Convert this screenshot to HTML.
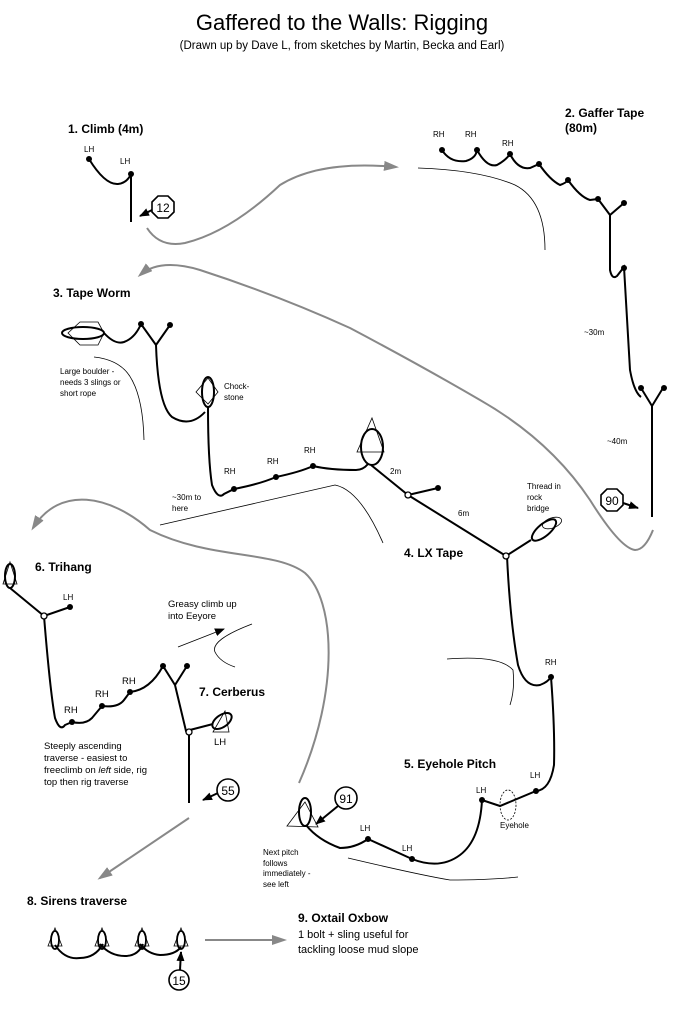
<!DOCTYPE html>
<html><head><meta charset="utf-8"><style>
html,body{margin:0;padding:0;background:#fff;}
svg{display:block;font-family:"Liberation Sans",Arial,sans-serif;}
.b{font-weight:bold;font-size:12px;}
.s{font-size:8px;}
.m{font-size:9.5px;}
.k{fill:none;stroke:#000;stroke-width:2;}
.t{fill:none;stroke:#000;stroke-width:0.8;}
.g{fill:none;stroke:#888;stroke-width:2;}
</style></head><body>
<svg width="698" height="1026" viewBox="0 0 698 1026">
<defs>
<marker id="ga" markerWidth="16" markerHeight="12" refX="12" refY="5" orient="auto" markerUnits="userSpaceOnUse"><path d="M0,0 L15,5 L0,10z" fill="#888"/></marker>
<marker id="ba" markerWidth="10" markerHeight="8" refX="9" refY="4" orient="auto" markerUnits="userSpaceOnUse"><path d="M0,0 L10,4 L0,8z" fill="#000"/></marker>
</defs>
<text x="342" y="30" font-size="22" text-anchor="middle">Gaffered to the Walls: Rigging</text>
<text x="342" y="49" font-size="11.5" text-anchor="middle">(Drawn up by Dave L, from sketches by Martin, Becka and Earl)</text>

<!-- 1 -->
<text x="68" y="133" class="b">1. Climb (4m)</text>
<text x="84" y="152" class="s">LH</text><text x="120" y="164" class="s">LH</text>
<path class="k" d="M89,159 Q105,185 118,184 Q127,183 131,174 L131,222"/>
<circle cx="89" cy="159" r="3"/><circle cx="131" cy="174" r="3"/>
<polygon points="158,196 168,196 174,202 174,212 168,218 158,218 152,212 152,202" fill="#fff" stroke="#000" stroke-width="1.6"/>
<text x="163" y="212" font-size="12" text-anchor="middle">12</text>
<line x1="152" y1="210" x2="140" y2="216" stroke="#000" stroke-width="2" marker-end="url(#ba)"/>
<path class="g" d="M147,228 Q160,248 185,243 Q230,232 280,185 Q320,160 396,167" marker-end="url(#ga)"/>

<!-- 2 -->
<text x="565" y="117" class="b">2. Gaffer Tape</text><text x="565" y="132" class="b">(80m)</text>
<text x="433" y="137" class="s">RH</text><text x="465" y="137" class="s">RH</text><text x="502" y="146" class="s">RH</text>
<path class="k" d="M442,150 Q450,163 466,161 Q476,158 477,150 Q487,168 497,165 Q506,160 510,154 Q518,170 530,168 L539,164 Q550,180 560,185 Q566,183 568,180 Q580,197 590,200 L598,199 L610,215 L624,203 M610,215 L610,270 Q612,280 617,276 L624,267 Q626,300 630,370 Q634,392 641,397 M641,388 L652,406 L663,388 M652,406 L652,517"/>
<circle cx="442" cy="150" r="3"/><circle cx="477" cy="150" r="3"/><circle cx="510" cy="154" r="3"/><circle cx="539" cy="164" r="3"/><circle cx="568" cy="180" r="3"/><circle cx="598" cy="199" r="3"/><circle cx="624" cy="203" r="3"/><circle cx="624" cy="268" r="3"/><circle cx="641" cy="388" r="3"/><circle cx="664" cy="388" r="3"/>
<path class="t" d="M418,168 Q480,170 515,185 Q545,200 545,250"/>
<text x="584" y="335" class="s">~30m</text><text x="607" y="444" class="s">~40m</text>
<polygon points="607,489 617,489 623,495 623,505 617,511 607,511 601,505 601,495" fill="#fff" stroke="#000" stroke-width="1.6"/>
<text x="612" y="505" font-size="12" text-anchor="middle">90</text>
<line x1="623" y1="503" x2="638" y2="508" stroke="#000" stroke-width="2" marker-end="url(#ba)"/>
<path class="g" d="M653,530 Q645,550 635,550 Q620,548 590,500 Q550,440 480,400 Q420,365 350,328 Q280,296 200,270 Q160,258 140,275" marker-end="url(#ga)"/>

<!-- 3 -->
<text x="53" y="297" class="b">3. Tape Worm</text>
<polygon points="80,322 98,322 104,333 98,345 80,345 68,333" fill="none" stroke="#000" stroke-width="0.8"/>
<ellipse cx="83" cy="333" rx="21" ry="6" fill="none" stroke="#000" stroke-width="2"/>
<path class="k" d="M104,333 Q115,345 124,342 Q135,338 141,324 L156,345 L170,325 M156,345 Q158,405 172,417 Q190,428 205,412"/>
<circle cx="141" cy="324" r="3"/><circle cx="170" cy="325" r="3"/>
<text x="60" y="374" class="s">Large boulder -</text><text x="60" y="385" class="s">needs 3 slings or</text><text x="60" y="396" class="s">short rope</text>
<path class="t" d="M94,357 Q122,360 132,380 Q143,400 144,440"/>
<polygon points="208,378 218,392 208,404 196,392" fill="none" stroke="#000" stroke-width="0.8"/>
<ellipse cx="208" cy="392" rx="6" ry="15" fill="none" stroke="#000" stroke-width="2"/>
<text x="224" y="389" class="s">Chock-</text><text x="224" y="400" class="s">stone</text>
<path class="k" d="M208,407 Q208,460 212,485 Q218,500 224,494 L234,489 Q260,484 276,477 Q300,472 313,466 Q330,470 356,470 Q363,470 368,464"/>
<circle cx="234" cy="489" r="3"/><circle cx="276" cy="477" r="3"/><circle cx="313" cy="466" r="3"/>
<text x="224" y="474" class="s">RH</text><text x="267" y="464" class="s">RH</text><text x="304" y="453" class="s">RH</text>
<text x="172" y="500" class="s">~30m to</text><text x="172" y="511" class="s">here</text>
<path class="t" d="M160,525 L335,485 Q360,490 383,543"/>
<polygon points="372,418 384,452 357,452" fill="none" stroke="#000" stroke-width="0.8"/>
<ellipse cx="372" cy="447" rx="11" ry="18" fill="none" stroke="#000" stroke-width="2"/>

<!-- 4 -->
<path class="k" d="M371,465 L408,495 L506,556 M408,495 L438,488 M506,556 L531,540"/>
<circle cx="438" cy="488" r="3"/>
<circle cx="408" cy="495" r="3" fill="#fff" stroke="#000" stroke-width="1.3"/>
<text x="390" y="474" class="s">2m</text><text x="458" y="516" class="s">6m</text>
<text x="527" y="489" class="s">Thread in</text><text x="527" y="500" class="s">rock</text><text x="527" y="511" class="s">bridge</text>
<ellipse cx="544" cy="530" rx="15" ry="6" transform="rotate(-40 544 530)" fill="none" stroke="#000" stroke-width="2"/>
<ellipse cx="552" cy="523" rx="10" ry="5" transform="rotate(-20 552 523)" fill="none" stroke="#000" stroke-width="0.8"/>
<text x="404" y="557" class="b">4. LX Tape</text>
<path class="k" d="M507,556 Q510,620 518,665 Q525,688 540,685 Q548,682 551,677 Q555,730 554,765 Q550,790 536,791 L500,806 L482,800 Q480,840 460,855 Q440,870 412,859 L368,839 Q355,848 340,848 Q318,840 306,825"/>
<circle cx="506" cy="556" r="3" fill="#fff" stroke="#000" stroke-width="1.3"/>
<circle cx="551" cy="677" r="3"/><circle cx="536" cy="791" r="3"/><circle cx="482" cy="800" r="3"/><circle cx="412" cy="859" r="3"/><circle cx="368" cy="839" r="3"/>
<text x="545" y="665" class="s">RH</text><text x="530" y="778" class="s">LH</text><text x="476" y="793" class="s">LH</text><text x="402" y="851" class="s">LH</text><text x="360" y="831" class="s">LH</text>
<ellipse cx="508" cy="805" rx="8" ry="15" fill="none" stroke="#000" stroke-width="0.8" stroke-dasharray="2,1.5"/>
<text x="500" y="828" class="s">Eyehole</text>
<text x="404" y="768" class="b">5. Eyehole Pitch</text>
<path class="t" d="M447,659 Q500,655 513,670 Q515,690 510,705"/>
<path class="t" d="M348,858 Q420,875 450,880 Q490,880 518,877"/>
<polygon points="305,802 318,827 287,826" fill="none" stroke="#000" stroke-width="0.8"/>
<ellipse cx="305" cy="812" rx="6" ry="14" fill="none" stroke="#000" stroke-width="2"/>
<circle cx="346" cy="798" r="11" fill="#fff" stroke="#000" stroke-width="1.6"/>
<text x="346" y="803" font-size="12" text-anchor="middle">91</text>
<line x1="338" y1="806" x2="316" y2="824" stroke="#000" stroke-width="2" marker-end="url(#ba)"/>
<text x="263" y="855" class="s">Next pitch</text><text x="263" y="866" class="s">follows</text><text x="263" y="876" class="s">immediately -</text><text x="263" y="887" class="s">see left</text>
<path class="g" d="M299,783 C340,690 335,600 305,573 C275,550 210,560 150,530 C110,495 60,485 33,528" marker-end="url(#ga)"/>

<!-- 6 -->
<text x="35" y="571" class="b">6. Trihang</text>
<polygon points="10,562 17,584 3,584" fill="none" stroke="#000" stroke-width="0.8"/>
<ellipse cx="10" cy="576" rx="5" ry="12" fill="none" stroke="#000" stroke-width="2"/>
<path class="k" d="M10,588 L44,616 L70,607 M44,616 Q50,690 55,718 Q60,732 65,725 L72,722 Q85,725 92,718 L102,706 Q118,708 124,700 L130,692 Q150,690 163,666 L175,685 L187,666 M175,685 L186,731 L213,724 M189,731 L189,803"/>
<circle cx="70" cy="607" r="3"/><circle cx="72" cy="722" r="3"/><circle cx="102" cy="706" r="3"/><circle cx="130" cy="692" r="3"/><circle cx="163" cy="666" r="3"/><circle cx="187" cy="666" r="3"/>
<circle cx="44" cy="616" r="3" fill="#fff" stroke="#000" stroke-width="1.3"/>
<circle cx="189" cy="732" r="3" fill="#fff" stroke="#000" stroke-width="1.3"/>
<text x="63" y="600" class="s">LH</text>
<text x="64" y="713" class="m">RH</text><text x="95" y="697" class="m">RH</text><text x="122" y="684" class="m">RH</text>
<text x="168" y="607" class="m">Greasy climb up</text><text x="168" y="619" class="m">into Eeyore</text>
<line x1="178" y1="647" x2="224" y2="629" stroke="#000" stroke-width="0.8" marker-end="url(#ba)" />
<path class="t" d="M252,624 Q210,640 215,652 Q220,662 235,667"/>
<text x="199" y="696" class="b">7. Cerberus</text>
<polygon points="225,711 229,732 213,732" fill="none" stroke="#000" stroke-width="0.8"/>
<ellipse cx="222" cy="721" rx="11" ry="6" transform="rotate(-35 222 721)" fill="none" stroke="#000" stroke-width="2"/>
<text x="214" y="745" class="m">LH</text>
<text x="44" y="749" class="m">Steeply ascending</text><text x="44" y="761" class="m">traverse - easiest to</text>
<text x="44" y="773" class="m">freeclimb on <tspan font-style="italic">left</tspan> side, rig</text><text x="44" y="785" class="m">top then rig traverse</text>
<circle cx="228" cy="790" r="11" fill="#fff" stroke="#000" stroke-width="1.6"/>
<text x="228" y="795" font-size="12" text-anchor="middle">55</text>
<line x1="218" y1="793" x2="203" y2="800" stroke="#000" stroke-width="2" marker-end="url(#ba)"/>
<path class="g" d="M189,818 L100,878" marker-end="url(#ga)"/>

<!-- 8 -->
<text x="27" y="905" class="b">8. Sirens traverse</text>
<g fill="none" stroke="#000" stroke-width="0.8">
<polygon points="55,928 62,946 48,946"/><polygon points="102,928 109,946 95,946"/><polygon points="142,928 149,946 135,946"/><polygon points="181,928 188,946 174,946"/>
</g>
<g fill="none" stroke="#000" stroke-width="1.8">
<ellipse cx="55" cy="940" rx="4" ry="9"/><ellipse cx="102" cy="940" rx="4" ry="9"/><ellipse cx="142" cy="940" rx="4" ry="9"/><ellipse cx="181" cy="940" rx="4" ry="9"/>
</g>
<path class="k" d="M55,945 Q65,960 80,958 Q95,958 103,944 M100,944 Q110,956 125,956 Q138,956 143,944 M140,944 Q148,954 160,955 Q175,955 181,947"/>
<circle cx="179" cy="980" r="10" fill="#fff" stroke="#000" stroke-width="1.6"/>
<text x="179" y="985" font-size="12" text-anchor="middle">15</text>
<line x1="180" y1="970" x2="181" y2="952" stroke="#000" stroke-width="2" marker-end="url(#ba)"/>
<path class="g" d="M205,940 L284,940" marker-end="url(#ga)"/>
<text x="298" y="922" class="b">9. Oxtail Oxbow</text>
<text x="298" y="938" font-size="11">1 bolt + sling useful for</text>
<text x="298" y="953" font-size="11">tackling loose mud slope</text>
</svg>
</body></html>
